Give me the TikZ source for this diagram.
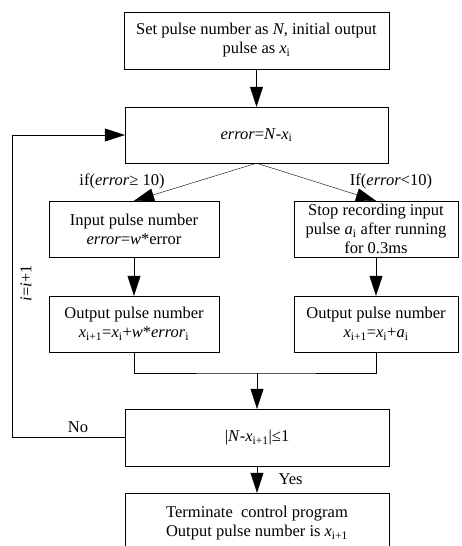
\documentclass[tikz,border=0pt]{standalone}
\usepackage{fontspec}
\setmainfont{Liberation Serif}
\usetikzlibrary{arrows.meta}

\tikzset{
    box/.style={draw, align=center, inner sep=2pt},
    arr/.style={-{Triangle[width=13pt,length=20pt]}},
}
\newcommand{\vi}[1]{\textit{#1}}

\begin{document}
\begin{tikzpicture}[x=1pt,y=-1pt,font=\fontsize{16.5}{19}\selectfont]
    \clip (0,0) rectangle (461,546);

    \node[box, minimum width=265pt, minimum height=57pt](set) at (256.5,40.5)
        {Set pulse number as \vi{N}, initial output\\pulse as \vi{x}\textsubscript{i}};
    \node[box, minimum width=263pt, minimum height=56pt](err) at (256.5,135)
        {\vi{error}=\vi{N}-\vi{x}\textsubscript{i}};
    \node[box, minimum width=170pt, minimum height=56pt](inp) at (134,229)
        {Input pulse number\\\vi{error}=\vi{w}*error};
    \node[box, minimum width=164pt, minimum height=56pt](stp) at (376,229)
        {Stop recording input\\pulse \vi{a}\textsubscript{i} after running\\for 0.3ms};
    \node[box, minimum width=170pt, minimum height=56pt](outa) at (134,324)
        {Output pulse number\\\vi{x}\textsubscript{i+1}=\vi{x}\textsubscript{i}+\vi{w}*\vi{error}\textsubscript{i}};
    \node[box, minimum width=164pt, minimum height=56pt](outb) at (376,324)
        {Output pulse number\\\vi{x}\textsubscript{i+1}=\vi{x}\textsubscript{i}+\vi{a}\textsubscript{i}};
    \node[box, minimum width=264pt, minimum height=57pt](chk) at (257,437.5)
        {|\vi{N}-\vi{x}\textsubscript{i+1}|≤1};
    \node[box, minimum width=264pt, minimum height=60pt](term) at (257,523)
        {Terminate\ \ control program\\Output pulse number is \vi{x}\textsubscript{i+1}};

    \coordinate (mrg) at (257,373);
    \coordinate (fb) at (12,437.5);

    \draw[arr](set)--(err);
    \draw[arr](err.south)--(inp.north);
    \draw[arr](err.south)--(stp.north);
    \node(ifa) at (122,181){if(\vi{error}≥ 10)};
    \node(ifb) at (391,181){If(\vi{error}<10)};
    \draw[arr](inp)--(outa);
    \draw[arr](stp)--(outb);
    \draw(outa.south)|-(mrg)-|(outb.south);
    \draw[arr](mrg)--(chk);
    \draw[arr](chk)--(term)node[midway,right=18pt]{Yes};
    \draw[arr](chk.west)--(fb)|-(err.west);
    \node(no) at (78,427){No};
    \node[rotate=90](inc) at (26,283){\vi{i}=\vi{i}+1};
\end{tikzpicture}
\end{document}
